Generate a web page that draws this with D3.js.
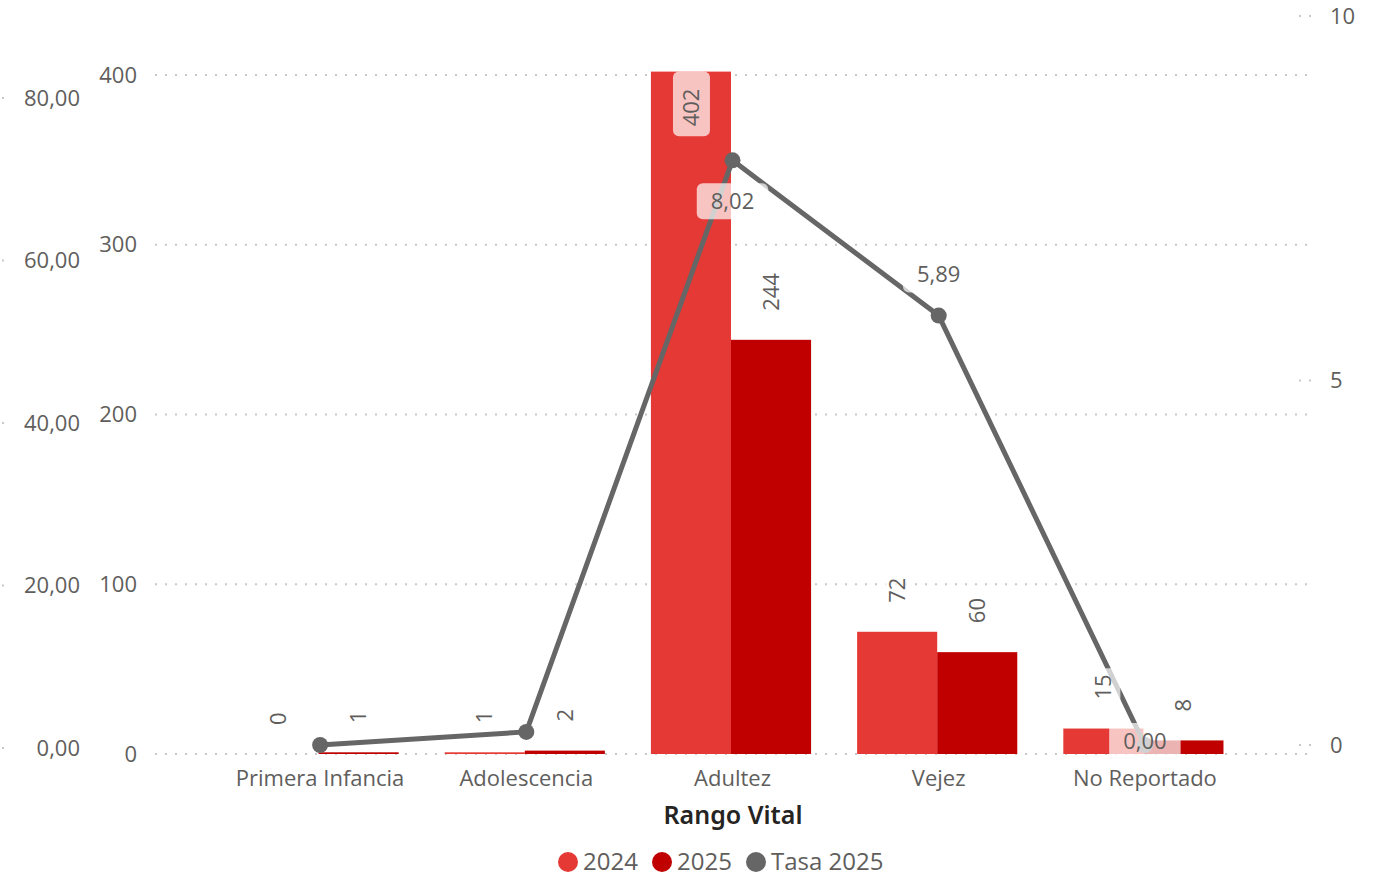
<!DOCTYPE html>
<html>
<head>
<meta charset="utf-8">
<script src="https://cdn.jsdelivr.net/npm/d3@7/dist/d3.min.js"></script>
<style>
  html, body { margin: 0; padding: 0; background: #fff; }
  svg { display: block; }
  text { font-family: "Open Sans", "Noto Sans", sans-serif; }
</style>
</head>
<body>
<svg id="chart" width="1377" height="877"></svg>
<script>
// ---------- data ----------
const categories = ["Primera Infancia", "Adolescencia", "Adultez", "Vejez", "No Reportado"];
const values2024 = [0, 1, 402, 72, 15];
const values2025 = [1, 2, 244, 60, 8];
const tasa2025   = [0.00, 0.18, 8.02, 5.89, 0.00];
const barTicks   = [0, 100, 200, 300, 400];
const leftTicks  = [0, 20, 40, 60, 80];
const rightTicks = [0, 5, 10];
const seriesNames = ["2024", "2025", "Tasa 2025"];
// label placement for the line labels (null = hidden)
const tasaLabelPlacement = [null, null, "below", "above", "center"];

// ---------- style ----------
const C2024 = "#E53935", C2025 = "#C00000", CLINE = "#666666";
const TXT = "#605E5C", GRID = "#C8C8C8";
const FS = 22;

const svg = d3.select("#chart");

const x = d3.scaleBand().domain(categories).range([215.5, 1246.5])
  .paddingInner(46 / 206).paddingOuter(23 / 206);
const xs = d3.scaleBand().domain(["2024", "2025"]).range([0, x.bandwidth()]);
const yBar = d3.scaleLinear().domain([0, 400]).range([754, 75]);
const yLeft = d3.scaleLinear().domain([0, 80]).range([748, 98]);
const yRight = d3.scaleLinear().domain([0, 10]).range([745, 16]);

const fmtComma = v => d3.format(".2f")(v).replace(".", ",");
const cxOf = c => x(c) + x.bandwidth() / 2 + 1.5;

// gridlines
svg.append("g").selectAll("line").data(barTicks).join("line")
  .attr("x1", 155).attr("x2", 1310)
  .attr("y1", d => yBar(d)).attr("y2", d => yBar(d))
  .attr("stroke", GRID).attr("stroke-width", 2).attr("stroke-dasharray", "2,8");

// bar axis labels
svg.append("g").selectAll("text").data(barTicks).join("text")
  .attr("x", 137).attr("y", d => yBar(d)).attr("dy", "0.35em")
  .attr("text-anchor", "end").attr("fill", TXT).attr("font-size", FS)
  .text(d => d);

// left-most axis
const gl = svg.append("g");
gl.selectAll("line").data(leftTicks).join("line")
  .attr("x1", 2).attr("x2", 8).attr("y1", d => yLeft(d)).attr("y2", d => yLeft(d))
  .attr("stroke", GRID).attr("stroke-width", 2).attr("stroke-dasharray", "2,8");
gl.selectAll("text").data(leftTicks).join("text")
  .attr("x", 80).attr("y", d => yLeft(d)).attr("dy", "0.35em")
  .attr("text-anchor", "end").attr("fill", TXT).attr("font-size", FS)
  .text(d => fmtComma(d));

// right axis
const gr = svg.append("g");
gr.selectAll("line").data(rightTicks).join("line")
  .attr("x1", 1299).attr("x2", 1313).attr("y1", d => yRight(d)).attr("y2", d => yRight(d))
  .attr("stroke", GRID).attr("stroke-width", 2).attr("stroke-dasharray", "2,8");
gr.selectAll("text").data(rightTicks).join("text")
  .attr("x", 1330).attr("y", d => yRight(d)).attr("dy", "0.35em")
  .attr("text-anchor", "start").attr("fill", TXT).attr("font-size", FS)
  .text(d => d);

// bars
const barData = [];
categories.forEach((c, i) => {
  barData.push({ cat: c, s: "2024", v: values2024[i], color: C2024 });
  barData.push({ cat: c, s: "2025", v: values2025[i], color: C2025 });
});
svg.append("g").selectAll("rect").data(barData).join("rect")
  .attr("x", d => x(d.cat) + xs(d.s))
  .attr("width", xs.bandwidth())
  .attr("y", d => yBar(d.v))
  .attr("height", d => yBar(0) - yBar(d.v))
  .attr("fill", d => d.color);

// category labels
svg.append("g").selectAll("text").data(categories).join("text")
  .attr("x", d => cxOf(d)).attr("y", 778).attr("dy", "0.35em")
  .attr("text-anchor", "middle").attr("fill", TXT).attr("font-size", FS)
  .text(d => d);

// axis title
svg.append("text").attr("x", 733).attr("y", 815).attr("dy", "0.35em")
  .attr("text-anchor", "middle").attr("fill", "#252423")
  .attr("font-size", 25).attr("font-weight", 600)
  .style("font-family", "'Noto Sans', sans-serif")
  .text("Rango Vital");

// line
const lineData = categories.map((c, i) => ({ cat: c, v: tasa2025[i], place: tasaLabelPlacement[i] }));
const line = d3.line().x(d => cxOf(d.cat)).y(d => yRight(d.v));
svg.append("path").datum(lineData).attr("d", line)
  .attr("fill", "none").attr("stroke", CLINE).attr("stroke-width", 5)
  .attr("stroke-linejoin", "round");
svg.append("g").selectAll("circle").data(lineData).join("circle")
  .attr("cx", d => cxOf(d.cat)).attr("cy", d => yRight(d.v))
  .attr("r", 8).attr("fill", CLINE);

// bar labels (rotated) with translucent background
const gLab = svg.append("g");
barData.forEach(d => {
  const cx = x(d.cat) + xs(d.s) + xs.bandwidth() / 2;
  const top = yBar(d.v);
  const g = gLab.append("g");
  const t = g.append("text").attr("font-size", FS).attr("fill", TXT)
    .attr("dy", "0.35em").text(d.v);
  const len = t.node().getComputedTextLength();
  const inside = top - 29 - len < 60;
  if (inside) {
    t.attr("text-anchor", "end");
    g.attr("transform", `translate(${cx},${top + 17}) rotate(-90)`);
    g.insert("rect", "text").attr("x", -len - 10).attr("y", -18)
      .attr("width", len + 27).attr("height", 37).attr("rx", 6)
      .attr("fill", "#fff").attr("fill-opacity", 0.7);
  } else {
    t.attr("text-anchor", "start");
    g.attr("transform", `translate(${cx},${top - 29}) rotate(-90)`);
    g.insert("rect", "text").attr("x", -6).attr("y", -17)
      .attr("width", len + 12).attr("height", 34).attr("rx", 6)
      .attr("fill", "#fff").attr("fill-opacity", 0.7);
  }
});

// line labels
lineData.forEach(d => {
  if (!d.place) return;
  const cx = cxOf(d.cat);
  const py = yRight(d.v);
  const cy = d.place === "below" ? py + 41 : d.place === "above" ? py - 41 : py - 4;
  const g = gLab.append("g").attr("transform", `translate(${cx},${cy})`);
  const t = g.append("text").attr("text-anchor", "middle").attr("dy", "0.35em")
    .attr("font-size", FS).attr("fill", TXT).text(fmtComma(d.v));
  const len = t.node().getComputedTextLength();
  g.insert("rect", "text").attr("x", -len / 2 - 14).attr("y", -18)
    .attr("width", len + 28).attr("height", 36).attr("rx", 6)
    .attr("fill", "#fff").attr("fill-opacity", 0.7);
});

// legend
const legColors = [C2024, C2025, CLINE];
const legX = [568, 662, 756];
const gLeg = svg.append("g");
seriesNames.forEach((n, i) => {
  gLeg.append("circle").attr("cx", legX[i]).attr("cy", 862).attr("r", 10).attr("fill", legColors[i]);
  gLeg.append("text").attr("x", legX[i] + 15).attr("y", 862).attr("dy", "0.35em")
    .attr("font-size", 24).attr("fill", TXT).text(n);
});
</script>
</body>
</html>
